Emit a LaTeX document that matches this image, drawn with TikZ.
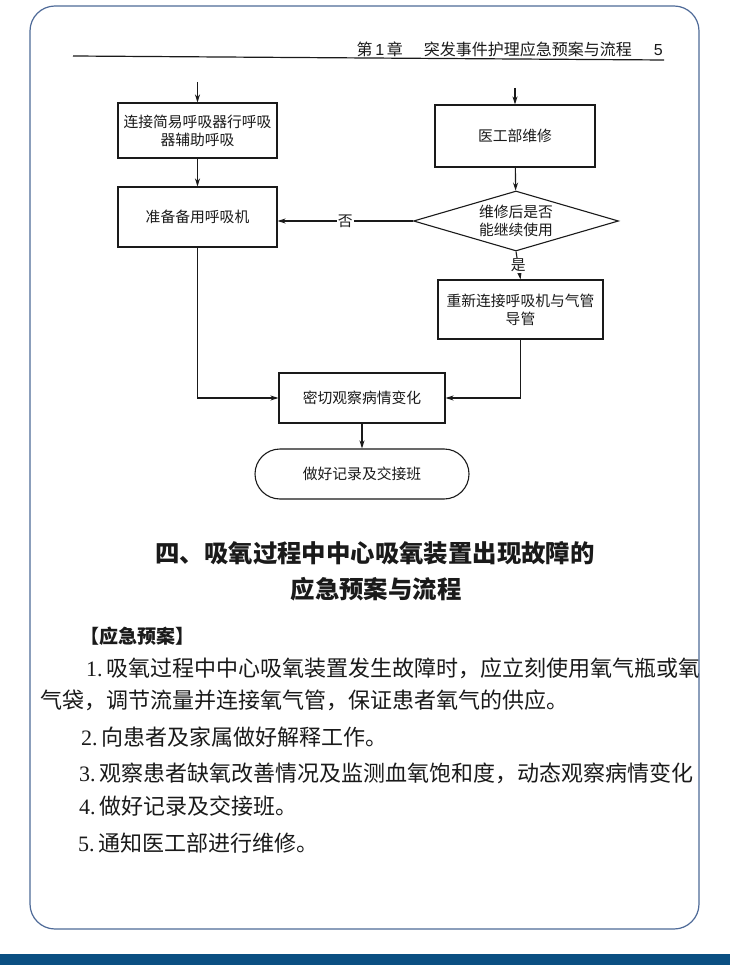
\documentclass[tikz,border=0pt]{standalone}
\usepackage{fontspec}
\newfontfamily\cjk{Noto Sans CJK SC}
\newfontfamily\lser{Liberation Serif}
\newfontfamily\lsans{Liberation Sans}
\usetikzlibrary{shapes.geometric,arrows.meta}
\definecolor{ink}{HTML}{1A1A1A}
\definecolor{framec}{HTML}{4E6A98}
\definecolor{bandc}{HTML}{0B4F82}
\tikzset{
  box/.style={draw=ink, line width=1.1pt, rectangle, inner sep=2pt, align=center,
    font=\cjk\fontsize{14.8}{18}\selectfont, text=ink},
  dia/.style={draw=ink, line width=1.1pt, diamond, aspect=3.4, inner sep=0pt, align=center,
    font=\cjk\fontsize{14.8}{18.5}\selectfont, text=ink},
  term/.style={box, rounded corners=25pt},
  arr/.style={draw=ink, line width=1.1pt, -{Stealth[length=8pt,width=5pt]}},
  lbl/.style={fill=white, inner sep=1pt, font=\cjk\fontsize{14.8}{16}\selectfont, text=ink},
  bodyline/.style={anchor=west, inner sep=0pt, text=ink, font=\cjk\fontsize{22}{24}\selectfont},
  heading/.style={inner sep=0pt, text=ink, font=\cjk\bfseries\fontsize{24.4}{28}\selectfont},
}
\newcommand{\numlbl}[1]{{\lser #1}\hspace{4pt}}
\begin{document}
\begin{tikzpicture}[x=1pt,y=-1pt]
\useasboundingbox (0,0) rectangle (730,965);
\fill[white] (0,0) rectangle (730,965);
\fill[bandc] (0,954) rectangle (730,965);

% header
\node[anchor=east, inner sep=0pt, text=ink, font=\cjk\fontsize{16}{18}\selectfont] (hdr) at (663,49)
  {第\,{\lsans 1}\,章\hspace{21pt}突发事件护理应急预案与流程\hspace{22pt}{\lsans 5}};
\coordinate (hl1) at (73,56);
\coordinate (hl2) at (664,60);
\draw[ink, line width=1.2pt] (hl1) -- (hl2);

% flowchart nodes
\node[box, minimum width=159pt, minimum height=55pt] (A) at (197.5,130.5) {连接简易呼吸器行呼吸\\器辅助呼吸};
\node[box, minimum width=160pt, minimum height=62pt] (B) at (515,136) {医工部维修};
\node[box, minimum width=159pt, minimum height=60pt] (C) at (197.5,217) {准备备用呼吸机};
\node[dia, minimum width=205pt, minimum height=60pt] (D) at (516,221) {维修后是否\\能继续使用};
\node[box, minimum width=165pt, minimum height=59pt] (E) at (520.5,309.5) {重新连接呼吸机与气管\\导管};
\node[box, minimum width=166pt, minimum height=50pt] (F) at (362,398) {密切观察病情变化};
\node[term, minimum width=214pt, minimum height=50pt] (G) at (362,474) {做好记录及交接班};

\coordinate (a0) at (197.5,82);
\coordinate (b0) at (515,88);
\draw[arr] (a0) -- (A);
\draw[arr] (b0) -- (B);
\draw[arr] (A) -- (C);
\draw[arr] (B) -- (D);
\draw[arr] (D.west) -- node[lbl] {否} (D.west -| C.east);
\draw[arr] (D.south) -- node[lbl] {是} (E.north);
\draw[arr] (C.south) -- (C.south |- F.west) -- (F.west);
\draw[arr] (E.south) -- (E.south |- F.east) -- (F.east);
\draw[arr] (F) -- (G);

% heading
\node[heading] (h1) at (375,553) {四、吸氧过程中中心吸氧装置出现故障的};
\node[heading] (h2) at (376,589) {应急预案与流程};

% body text
\begin{scope}
\clip (30,5) rectangle (699,929);
\node[bodyline, font=\cjk\bfseries\fontsize{19}{22}\selectfont] (p0) at (80,636) {【应急预案】};
\node[bodyline] (p1) at (86,668) {\numlbl{1.}吸氧过程中中心吸氧装置发生故障时，应立刻使用氧气瓶或氧};
\node[bodyline] (p1b) at (40,700) {气袋，调节流量并连接氧气管，保证患者氧气的供应。};
\node[bodyline] (p2) at (81,737) {\numlbl{2.}向患者及家属做好解释工作。};
\node[bodyline] (p3) at (79,773) {\numlbl{3.}观察患者缺氧改善情况及监测血氧饱和度，动态观察病情变化};
\node[bodyline] (p4) at (79,806) {\numlbl{4.}做好记录及交接班。};
\node[bodyline] (p5) at (78,843) {\numlbl{5.}通知医工部进行维修。};
\end{scope}

% frame
\draw[framec, line width=1.2pt, rounded corners=25pt] (30,6) rectangle (699,929);
\end{tikzpicture}
\end{document}
